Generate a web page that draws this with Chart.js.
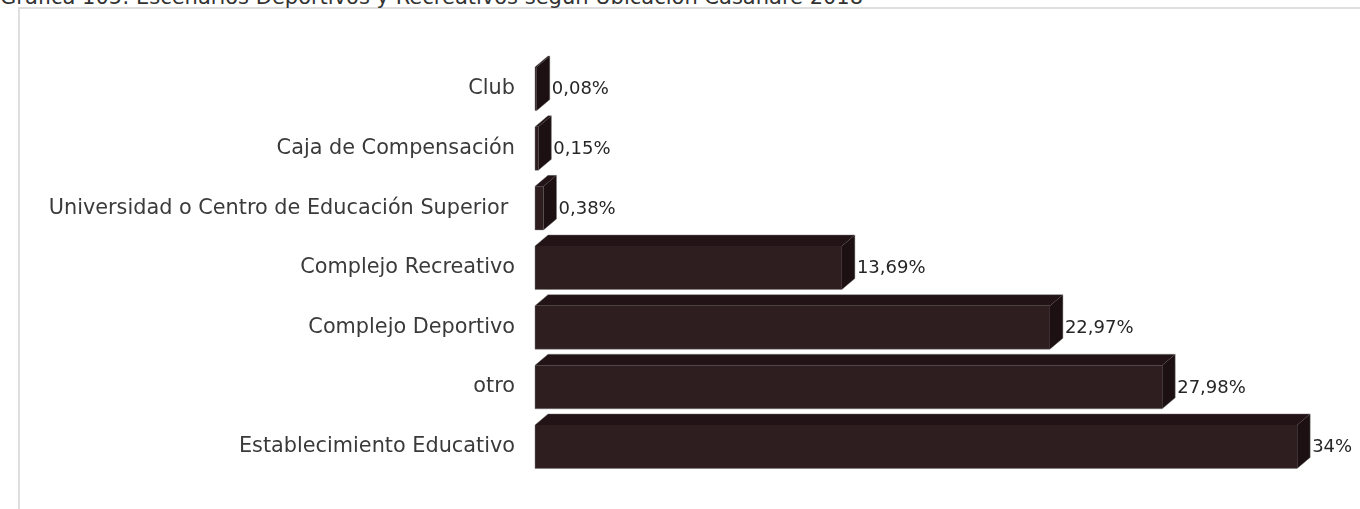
<!DOCTYPE html>
<html>
<head>
<meta charset="utf-8">
<script src="https://cdn.jsdelivr.net/npm/chart.js@4/dist/chart.umd.min.js"></script>
<style>
  html, body { margin: 0; padding: 0; background: #fff; overflow: hidden; }
  #wrap { position: relative; width: 1360px; height: 509px; }
  #frame { position: absolute; left: 18px; top: 7px; width: 1400px; height: 600px;
           border-left: 2px solid #dedede; border-top: 2px solid #dedede; }
  #title { position: absolute; left: 0; top: -15px; font: 21px "DejaVu Sans", sans-serif;
           color: #333; white-space: nowrap; }
  canvas { position: absolute; left: 0; top: 0; }
</style>
</head>
<body>
<div id="wrap">
  <div id="frame"></div>
  <div id="title">Gráfica 105: Escenarios Deportivos y Recreativos según Ubicación Casanare 2018</div>
  <canvas id="chart" width="1360" height="509"></canvas>
</div>
<script>
const categories = [
  'Club',
  'Caja de Compensación',
  'Universidad o Centro de Educación Superior ',
  'Complejo Recreativo',
  'Complejo Deportivo',
  'otro',
  'Establecimiento Educativo'
];
const values = [0.08, 0.15, 0.38, 13.69, 22.97, 27.98, 34];
const valueLabels = ['0,08%', '0,15%', '0,38%', '13,69%', '22,97%', '27,98%', '34%'];

const DX = 13, DY = 11;

// draws the top and side faces so the bars look like 3D blocks
const bars3d = {
  id: 'bars3d',
  afterDatasetsDraw (chart) {
    const ctx = chart.ctx;
    chart.getDatasetMeta(0).data.forEach((bar) => {
      const { x, y, base, height } = bar.getProps(['x', 'y', 'base', 'height'], true);
      const top = y - height / 2, bottom = y + height / 2;
      ctx.save();
      ctx.fillStyle = '#221416';
      ctx.beginPath();
      ctx.moveTo(base, top);
      ctx.lineTo(base + DX, top - DY);
      ctx.lineTo(x + DX, top - DY);
      ctx.lineTo(x, top);
      ctx.closePath();
      ctx.fill();
      ctx.fillStyle = '#1c1012';
      ctx.beginPath();
      ctx.moveTo(x, top);
      ctx.lineTo(x + DX, top - DY);
      ctx.lineTo(x + DX, bottom - DY);
      ctx.lineTo(x, bottom);
      ctx.closePath();
      ctx.fill();
      // faint outline
      ctx.strokeStyle = 'rgba(120,120,120,0.45)';
      ctx.lineWidth = 1;
      ctx.beginPath();
      ctx.moveTo(base, bottom);
      ctx.lineTo(base, top);
      ctx.lineTo(base + DX, top - DY);
      ctx.lineTo(x + DX, top - DY);
      ctx.lineTo(x + DX, bottom - DY);
      ctx.lineTo(x, bottom);
      ctx.closePath();
      ctx.stroke();
      ctx.restore();
    });
  }
};

const valueText = {
  id: 'valueText',
  afterDraw (chart) {
    const ctx = chart.ctx;
    ctx.save();
    ctx.font = '18px "DejaVu Sans", sans-serif';
    ctx.fillStyle = '#262626';
    ctx.textAlign = 'left';
    ctx.textBaseline = 'middle';
    chart.getDatasetMeta(0).data.forEach((bar, i) => {
      ctx.fillText(valueLabels[i], bar.x + DX + 2, bar.y + 1);
    });
    ctx.restore();
  }
};

new Chart(document.getElementById('chart'), {
  type: 'bar',
  data: {
    labels: categories,
    datasets: [{
      data: values,
      backgroundColor: '#2e1e20',
      borderWidth: 0,
      categoryPercentage: 1,
      barPercentage: 0.73
    }]
  },
  options: {
    indexAxis: 'y',
    responsive: false,
    animation: false,
    devicePixelRatio: 1,
    layout: { padding: { top: 59, bottom: 30, left: 0, right: 18 } },
    plugins: { legend: { display: false }, tooltip: { enabled: false } },
    scales: {
      x: { display: false, min: 0, max: 36 },
      y: {
        grid: { display: false, drawTicks: false },
        border: { display: false },
        ticks: {
          padding: 20,
          color: '#3a3a3a',
          font: { family: '"DejaVu Sans", sans-serif', size: 20.8 }
        },
        afterFit (axis) { axis.width = 535; }
      }
    }
  },
  plugins: [bars3d, valueText]
});
</script>
</body>
</html>
